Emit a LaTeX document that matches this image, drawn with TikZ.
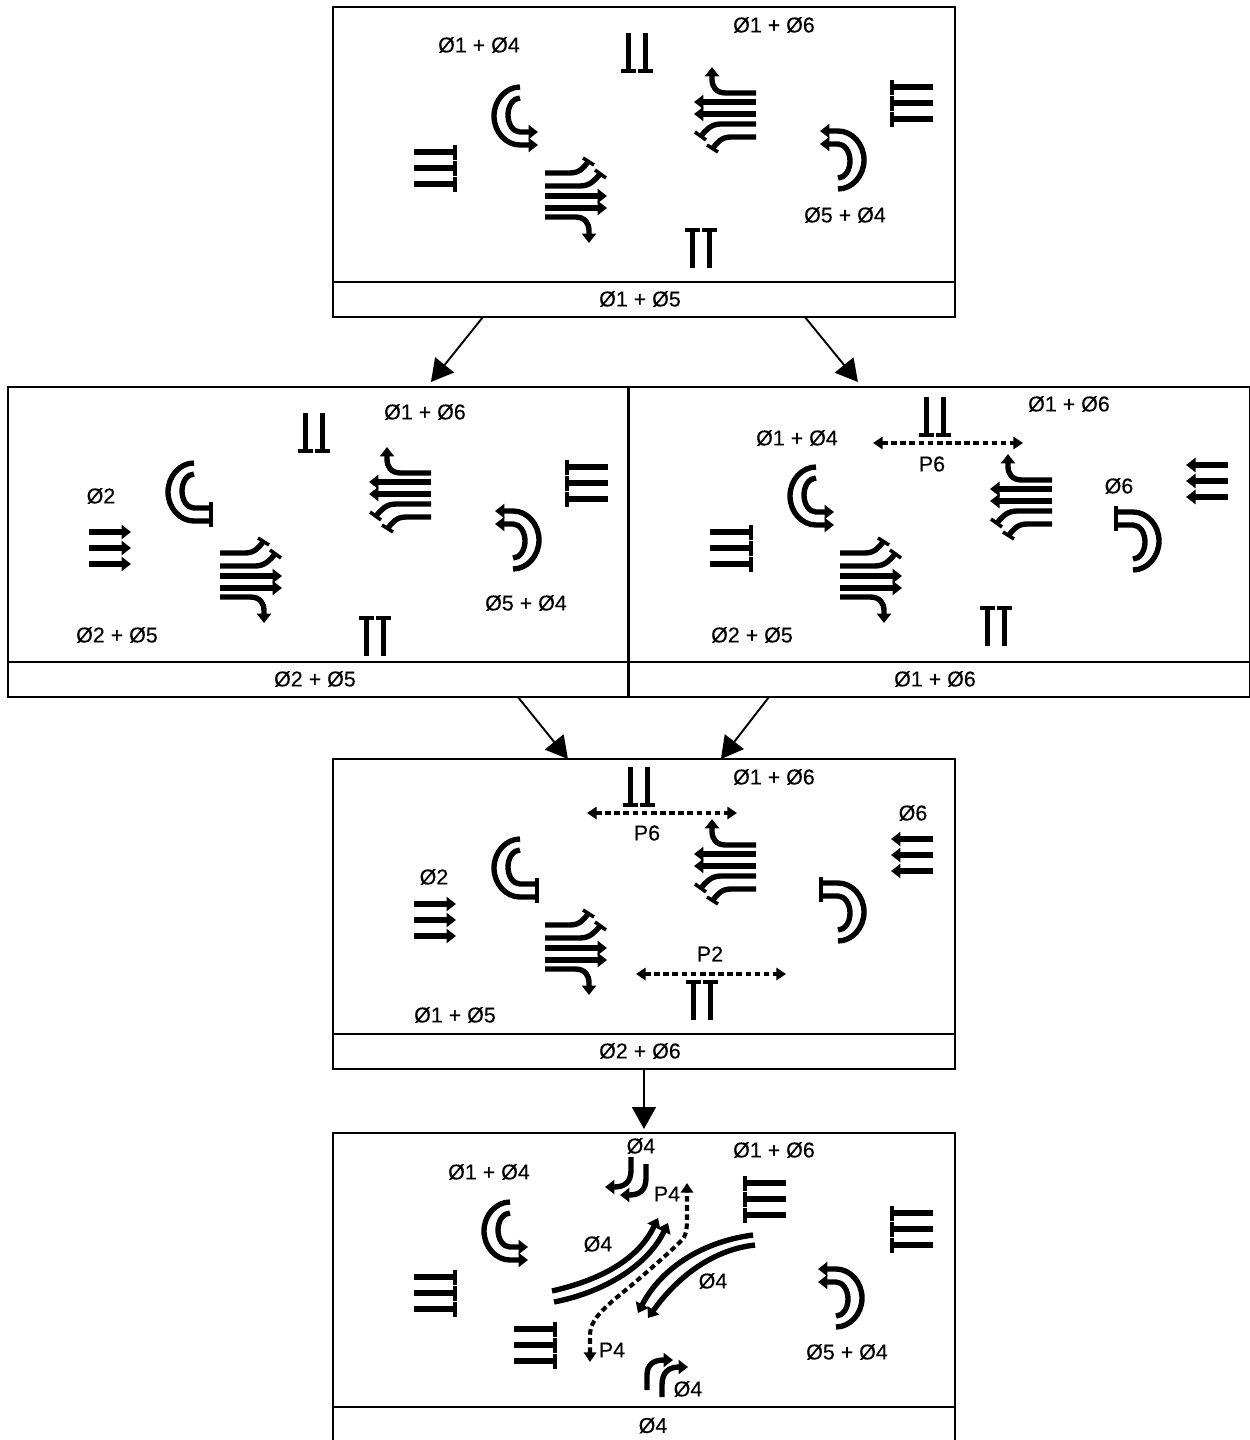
\documentclass[tikz,border=0pt]{standalone}
\usepackage{fontspec}
\setmainfont{Liberation Sans}
\newfontface\lblface{Liberation Sans}[FakeBold=0.25]
\usetikzlibrary{arrows.meta}
\tikzset{
  x=0.02cm,y=-0.02cm,
  sym/.style={line width=3.05pt,line cap=butt,draw=black},
  barline/.style={line width=2pt,draw=black},
  tip/.style={-{Triangle[length=5.4pt,width=8pt]}},
  lbl/.style={font=\lblface\fontsize{12.2}{14}\selectfont,inner sep=0pt,text=black},
  panelbox/.style={draw=black,line width=1.2pt,anchor=north west,inner sep=0pt,outer sep=0pt,minimum height=5.5cm},
  rowbox/.style={draw=black,line width=1.2pt,anchor=north west,inner sep=0pt,outer sep=0pt,minimum height=0.7cm},
  conn/.style={draw=black,line width=1.1pt,-{Triangle[length=12.5pt,width=13.6pt]}},
  dashline/.style={draw=black,line width=2pt,dash pattern=on 3.2pt off 2pt,{Triangle[length=5.5pt,width=7pt]}-{Triangle[length=5.5pt,width=7pt]}},
  pics/uturnarrow/.style={code={
    \draw[sym,tip] (0,-29) .. controls (-14,-29) and (-26,-16) .. (-26,0) .. controls (-26,16) and (-14,29) .. (0,29) -- (18,29);
    \draw[sym,tip] (0,-18) .. controls (-7,-18) and (-12,-10) .. (-12,-1) .. controls (-12,8) and (-7,16) .. (0,16) -- (18,16);
  }},
  pics/uturnbar/.style={code={
    \draw[sym] (0,-29) .. controls (-14,-29) and (-26,-16) .. (-26,0) .. controls (-26,16) and (-14,29) .. (0,29) -- (17,29);
    \draw[sym] (0,-18) .. controls (-7,-18) and (-12,-10) .. (-12,-1) .. controls (-12,8) and (-7,16) .. (0,16) -- (17,16);
    \draw[barline] (17,10) -- (17,35);
  }},
  pics/bundle/.style={code={
    \draw[sym] (0,-22) -- (25,-22) .. controls (35,-22) and (39,-28) .. (43,-33);
    \draw[barline] (38,-37) -- (49,-30);
    \draw[sym] (0,-9) -- (35,-9) .. controls (45,-9) and (50,-15) .. (55,-21);
    \draw[barline] (50,-25) -- (61,-17);
    \draw[sym,tip] (0,1) -- (62,1);
    \draw[sym,tip] (0,13) -- (62,13);
    \draw[sym,tip] (0,22) -- (30,22) .. controls (40,22) and (44,28) .. (44,36) -- (44,48);
  }},
  pics/tthree/.style={code={
    \foreach \yy in {-16,0,16}{
      \draw[sym] (-41,\yy) -- (0,\yy);
      \draw[barline] (0,\yy-7.5) -- (0,\yy+7.5);
    }
  }},
  pics/ttwo/.style={code={
    \foreach \yy in {-8.5,8.5}{
      \draw[sym] (-38,\yy) -- (0,\yy);
      \draw[barline] (0,\yy-7.5) -- (0,\yy+7.5);
    }
  }},
  pics/arrowthree/.style={code={
    \foreach \yy in {-16,0,16}{
      \draw[sym,tip] (0,\yy) -- (42,\yy);
    }
  }},
}
\begin{document}
\begin{tikzpicture}
\useasboundingbox (0,0) rectangle (1250,1440);
% panels
\node[panelbox,minimum width=12.44cm] (p1) at (333,7) {};
\node[rowbox,minimum width=12.44cm] (p1row) at (333,282) {};
\node[panelbox,minimum width=12.4cm] (p2) at (8,387) {};
\node[rowbox,minimum width=12.4cm] (p2row) at (8,662) {};
\node[panelbox,minimum width=12.42cm] (p3) at (629,387) {};
\node[rowbox,minimum width=12.42cm] (p3row) at (629,662) {};
\node[panelbox,minimum width=12.44cm] (p4) at (333,759) {};
\node[rowbox,minimum width=12.44cm] (p4row) at (333,1034) {};
\node[panelbox,minimum width=12.44cm,minimum height=5.48cm] (p5) at (333,1133) {};
\node[rowbox,minimum width=12.44cm,minimum height=0.76cm] (p5row) at (333,1407) {};
\node[lbl] (r1) at (640,299) {Ø1 + Ø5};
\node[lbl] (r2) at (315,679) {Ø2 + Ø5};
\node[lbl] (r3) at (935,679) {Ø1 + Ø6};
\node[lbl] (r4) at (640,1051) {Ø2 + Ø6};
\node[lbl] (r5) at (653,1425.5) {Ø4};
% connectors
\draw[conn] ([xshift=3cm]p1row.south west) -- ([xshift=2.26cm,yshift=0.1cm]p2.north);
\draw[conn] ([xshift=9.44cm]p1row.south west) -- ([xshift=-1.63cm,yshift=0.1cm]p3.north);
\draw[conn] ([xshift=10.2cm]p2row.south west) -- ([xshift=-1.52cm]p4.north);
\draw[conn] ([xshift=2.8cm]p3row.south west) -- ([xshift=1.54cm]p4.north);
\draw[conn] (p4row.south) -- ([yshift=0.08cm]p5.north);
% panel 1
\node[lbl] (a1) at (479,45) {Ø1 + Ø4};
\node[lbl] (a2) at (774,25) {Ø1 + Ø6};
\node[lbl] (a3) at (845,215) {Ø5 + Ø4};
\pic at (455,168) {tthree};
\pic[rotate=180] at (892,103) {tthree};
\pic[rotate=-90] at (637,71) {ttwo};
\pic[rotate=90] at (701,230) {ttwo};
\pic at (520,116) {uturnarrow};
\pic[rotate=180] at (838,160) {uturnarrow};
\pic at (545,195) {bundle};
\pic[rotate=180] at (756,115) {bundle};
% panel 2
\node[lbl] (b1) at (425,412) {Ø1 + Ø6};
\node[lbl] (b2) at (101,496) {Ø2};
\node[lbl] (b3) at (526,603) {Ø5 + Ø4};
\node[lbl] (b4) at (117,635) {Ø2 + Ø5};
\pic at (89,548) {arrowthree};
\pic[rotate=180] at (567,483) {tthree};
\pic[rotate=-90] at (314,451) {ttwo};
\pic[rotate=90] at (375,618) {ttwo};
\pic at (194,492) {uturnbar};
\pic[rotate=180] at (513,540) {uturnarrow};
\pic at (220,575) {bundle};
\pic[rotate=180] at (431,495) {bundle};
% panel 3
\node[lbl] (c1) at (797,438) {Ø1 + Ø4};
\node[lbl] (c2) at (1069,404) {Ø1 + Ø6};
\node[lbl] (c3) at (932,464) {P6};
\node[lbl] (c4) at (1119,486) {Ø6};
\node[lbl] (c5) at (752,635) {Ø2 + Ø5};
\pic at (751,548) {tthree};
\pic[rotate=180] at (1228,481) {arrowthree};
\pic[rotate=-90] at (935,435) {ttwo};
\pic[rotate=90] at (996,608) {ttwo};
\pic at (816,496) {uturnarrow};
\pic[rotate=180] at (1133,541) {uturnbar};
\pic at (840,575) {bundle};
\pic[rotate=180] at (1052,502) {bundle};
\coordinate (d3a) at (873,443); \coordinate (d3b) at (1023,443);
\draw[dashline] (d3a) -- (d3b);
% panel 4
\node[lbl] (d1) at (774,777) {Ø1 + Ø6};
\node[lbl] (d2) at (647,833) {P6};
\node[lbl] (d3) at (913,813) {Ø6};
\node[lbl] (d4) at (434,877) {Ø2};
\node[lbl] (d5) at (710,954) {P2};
\node[lbl] (d6) at (455,1015) {Ø1 + Ø5};
\pic at (414,920) {arrowthree};
\pic[rotate=180] at (933,855) {arrowthree};
\pic[rotate=-90] at (639,805) {ttwo};
\pic[rotate=90] at (702,982) {ttwo};
\pic at (520,868) {uturnbar};
\pic[rotate=180] at (838,912) {uturnbar};
\pic at (545,947) {bundle};
\pic[rotate=180] at (756,867) {bundle};
\coordinate (d4a) at (587,813); \coordinate (d4b) at (737,813);
\draw[dashline] (d4a) -- (d4b);
\coordinate (d4c) at (636,974); \coordinate (d4d) at (786,974);
\draw[dashline] (d4c) -- (d4d);
% panel 5
\node[lbl] (e1) at (489,1172) {Ø1 + Ø4};
\node[lbl] (e2) at (641,1146) {Ø4};
\node[lbl] (e3) at (774,1150) {Ø1 + Ø6};
\node[lbl] (e4) at (667,1194) {P4};
\node[lbl] (e5) at (598,1244) {Ø4};
\node[lbl] (e6) at (713,1281) {Ø4};
\node[lbl] (e7) at (612,1350) {P4};
\node[lbl] (e8) at (847,1352) {Ø5 + Ø4};
\node[lbl] (e9) at (688,1389) {Ø4};
\pic at (455,1293) {tthree};
\pic at (555,1345) {tthree};
\pic[rotate=180] at (892,1229) {tthree};
\pic[rotate=180] at (745,1199) {tthree};
\pic at (510,1231) {uturnarrow};
\pic[rotate=180] at (836,1298) {uturnarrow};
\draw[sym,tip] (631,1157) -- (631,1170) .. controls (631,1182) and (625,1187) .. (605,1187);
\draw[sym,tip] (646,1164) -- (646,1178) .. controls (646,1190) and (640,1195) .. (620,1195);
\draw[sym,tip] (647,1390) -- (647,1375) .. controls (647,1365) and (653,1360) .. (673,1360);
\draw[sym,tip] (662,1397) -- (662,1385) .. controls (662,1373) and (668,1367) .. (688,1367);
\draw[sym,tip] (552,1291) .. controls (600,1280) and (638,1260) .. (658,1218);
\draw[sym,tip] (554,1302) .. controls (605,1292) and (648,1265) .. (668,1223);
\draw[sym,tip] (753,1235) .. controls (700,1242) and (660,1270) .. (638,1313);
\draw[sym,tip] (755,1245) .. controls (710,1250) and (675,1280) .. (648,1318);
\draw[dashline,line width=2.3pt] (590,1362) -- (590,1335) .. controls (590,1315) and (615,1300) .. (640,1278) .. controls (655,1265) and (672,1250) .. (680,1242) .. controls (687,1236) and (687,1228) .. (687,1215) -- (687,1183);
\end{tikzpicture}
\end{document}
